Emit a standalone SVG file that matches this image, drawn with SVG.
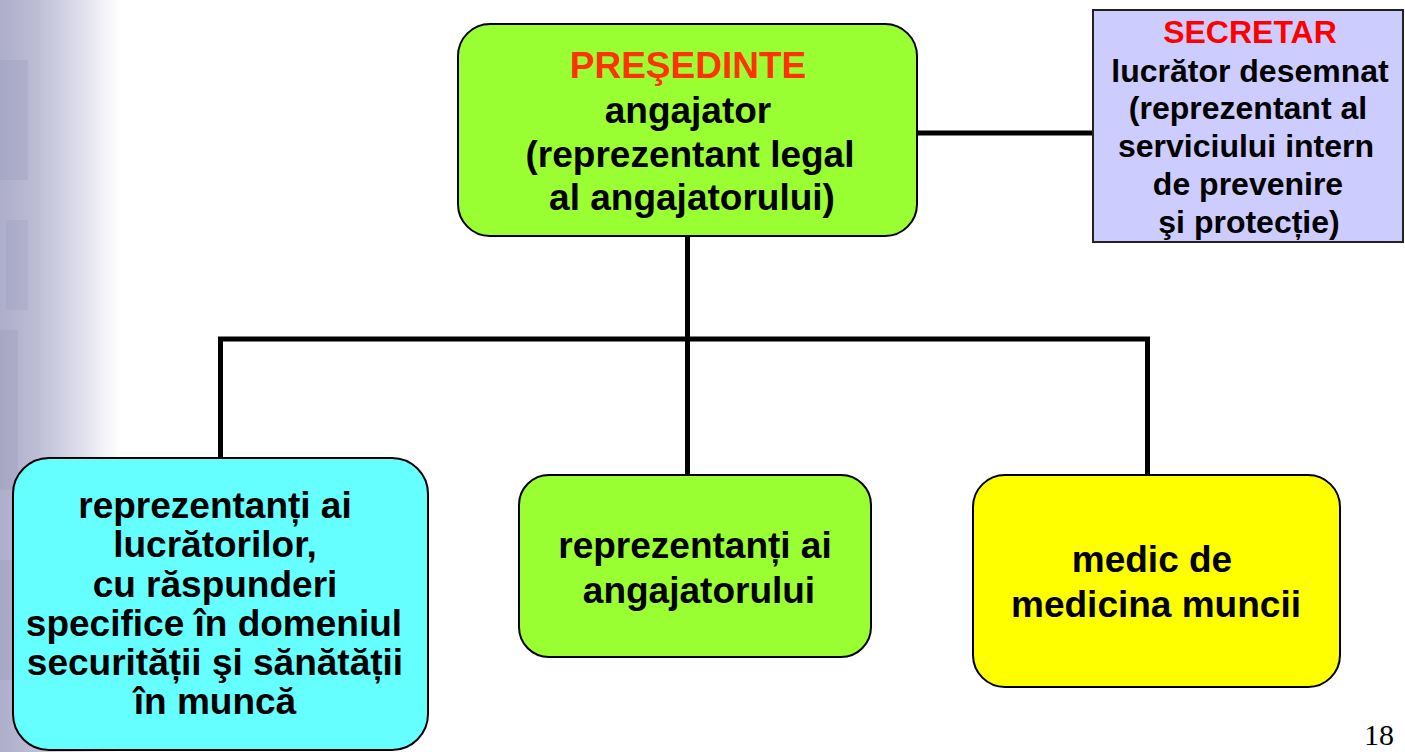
<svg xmlns="http://www.w3.org/2000/svg" width="1405" height="752" viewBox="0 0 1405 752">
<style>
.box{stroke:#000;stroke-width:2}
.t{font-family:"Liberation Sans",Arial,sans-serif;font-weight:bold;font-size:37px;fill:#000;text-anchor:middle}
.s{font-size:32px}
.conn{stroke:#000;stroke-width:5;fill:none}
</style>
<defs>
<linearGradient id="bg" x1="0" y1="0" x2="1" y2="0">
<stop offset="0" stop-color="#aeaecb"/>
<stop offset="0.3" stop-color="#bcbcd5"/>
<stop offset="0.65" stop-color="#dcdcea"/>
<stop offset="1" stop-color="#ffffff"/>
</linearGradient>
</defs>
<rect x="0" y="0" width="1405" height="752" fill="#fff"/>
<rect x="0" y="0" width="120" height="752" fill="url(#bg)"/>
<g opacity="0.18">
<rect x="0" y="60" width="28" height="120" fill="#8a8ab4"/>
<rect x="6" y="220" width="22" height="90" fill="#9090b8"/>
<rect x="0" y="330" width="18" height="160" fill="#8888aa"/>
<rect x="0" y="560" width="24" height="120" fill="#8a8ab0"/>
</g>
<g id="connectors">
<line class="conn" x1="917" y1="133" x2="1093" y2="133"/>
<line class="conn" x1="687.5" y1="236" x2="687.5" y2="475"/>
<polyline class="conn" points="220.5,458 220.5,339 1147.5,339 1147.5,475"/>
</g>
<g id="presedinte">
<rect class="box" x="458" y="24" width="459" height="212" rx="32" fill="#99ff33"/>
<text class="t" x="688" y="78" style="fill:#ff3300">PREŞEDINTE</text>
<text class="t" x="688" y="123">angajator</text>
<text class="t" x="690" y="167">(reprezentant legal</text>
<text class="t" x="692" y="210">al angajatorului)</text>
</g>
<g id="secretar">
<rect x="1093" y="10" width="310" height="232" fill="#ccccff" stroke="#222" stroke-width="2"/>
<text class="t s" x="1250" y="43" style="fill:#ff0000">SECRETAR</text>
<text class="t s" x="1250" y="82">lucrător desemnat</text>
<text class="t s" x="1248" y="119">(reprezentant al</text>
<text class="t s" x="1246" y="157">serviciului intern</text>
<text class="t s" x="1248" y="195">de prevenire</text>
<text class="t s" x="1249" y="233">şi protecție)</text>
</g>
<g id="reprezentanti-lucratori">
<rect class="box" x="13" y="458" width="415" height="292" rx="36" fill="#66ffff"/>
<text class="t" x="215" y="518">reprezentanți ai</text>
<text class="t" x="215" y="557">lucrătorilor,</text>
<text class="t" x="215" y="597">cu răspunderi</text>
<text class="t" x="214" y="636">specifice în domeniul</text>
<text class="t" x="215" y="675">securității şi sănătății</text>
<text class="t" x="215" y="714">în muncă</text>
</g>
<g id="reprezentanti-angajator">
<rect class="box" x="519" y="475" width="352" height="182" rx="30" fill="#99ff33"/>
<text class="t" x="695" y="558">reprezentanți ai</text>
<text class="t" x="699" y="603">angajatorului</text>
</g>
<g id="medic">
<rect class="box" x="973" y="475" width="367" height="212" rx="32" fill="#ffff00"/>
<text class="t" x="1152" y="572">medic de</text>
<text class="t" x="1156" y="617">medicina muncii</text>
</g>
<text x="1364" y="745" font-family="'Liberation Serif','Times New Roman',serif" font-size="30" fill="#000">18</text>
</svg>
